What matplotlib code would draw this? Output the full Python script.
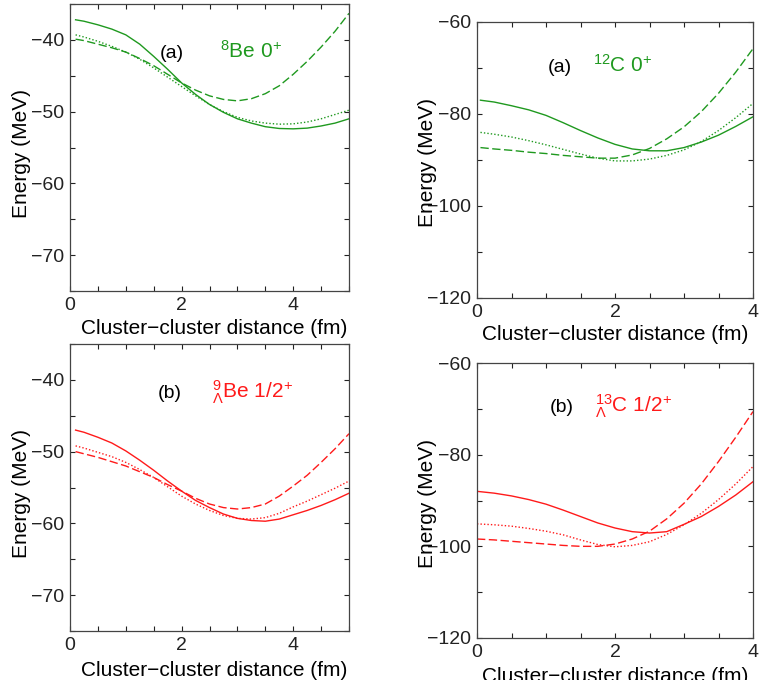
import matplotlib
matplotlib.use("Agg")
import matplotlib.pyplot as plt
from matplotlib.ticker import MultipleLocator

plt.rcParams['font.family'] = ['Liberation Sans', 'DejaVu Sans']
plt.rcParams['mathtext.fontset'] = 'custom'
plt.rcParams['mathtext.rm'] = 'Liberation Sans'
plt.rcParams['mathtext.it'] = 'Liberation Sans:italic'
plt.rcParams['mathtext.bf'] = 'Liberation Sans:bold'

# ---------------- data ----------------
x_be8 = [0.1, 0.25, 0.5, 0.75, 1.0, 1.25, 1.5, 1.75, 2.0, 2.25, 2.5,
         2.75, 3.0, 3.25, 3.5, 3.75, 4.0, 4.25, 4.5, 4.75, 5.0]
be8_solid = [-37.2, -37.4, -37.9, -38.5, -39.3, -40.6, -42.3, -44.1, -46.0, -47.6, -49.0,
             -50.1, -51.0, -51.6, -52.1, -52.35, -52.4, -52.3, -52.0, -51.6, -51.0]
be8_dash = [-39.9, -40.1, -40.6, -41.1, -41.7, -42.6, -43.6, -44.8, -46.0, -47.0, -47.8,
            -48.3, -48.5, -48.2, -47.5, -46.4, -44.8, -43.0, -41.0, -38.8, -36.3]
be8_dot = [-39.3, -39.6, -40.2, -40.9, -41.7, -42.7, -43.9, -45.2, -46.5, -47.8, -49.0,
           -50.0, -50.8, -51.3, -51.6, -51.75, -51.7, -51.45, -51.0, -50.4, -49.8]

x_c12 = [0.05, 0.25, 0.5, 0.75, 1.0, 1.25, 1.5, 1.75, 2.0,
         2.25, 2.5, 2.75, 3.0, 3.25, 3.5, 3.75, 4.0]
c12_solid = [-77.0, -77.4, -78.2, -79.1, -80.3, -81.9, -83.6, -85.2, -86.6,
             -87.6, -88.0, -88.0, -87.3, -86.1, -84.6, -82.7, -80.6]
c12_dash = [-87.3, -87.6, -87.9, -88.3, -88.6, -89.0, -89.3, -89.6, -89.6,
            -88.9, -87.5, -85.4, -82.8, -79.5, -75.5, -70.9, -65.8]
c12_dot = [-84.0, -84.4, -85.0, -85.8, -86.7, -87.7, -88.7, -89.6, -90.2,
           -90.2, -89.8, -89.0, -87.8, -86.0, -83.6, -80.8, -77.7]

x_be9 = [0.1, 0.25, 0.5, 0.75, 1.0, 1.25, 1.5, 1.75, 2.0, 2.25, 2.5,
         2.75, 3.0, 3.25, 3.5, 3.75, 4.0, 4.25, 4.5, 4.75, 5.0]
be9_solid = [-47.0, -47.3, -48.0, -48.8, -49.9, -51.2, -52.6, -54.1, -55.5, -56.8, -57.8,
             -58.7, -59.3, -59.6, -59.7, -59.4, -58.8, -58.2, -57.5, -56.7, -55.8]
be9_dash = [-50.0, -50.3, -50.8, -51.4, -52.0, -52.8, -53.6, -54.6, -55.5, -56.5, -57.3,
            -57.8, -58.0, -57.8, -57.3, -56.2, -54.8, -53.3, -51.5, -49.6, -47.5]
be9_dot = [-49.2, -49.5, -50.1, -50.7, -51.5, -52.5, -53.6, -54.9, -56.2, -57.3, -58.2,
           -58.9, -59.3, -59.4, -59.2, -58.6, -57.7, -56.9, -56.0, -55.1, -54.1]

x_c13 = [0.0, 0.25, 0.5, 0.75, 1.0, 1.25, 1.5, 1.75, 2.0,
         2.25, 2.5, 2.75, 3.0, 3.25, 3.5, 3.75, 4.0]
c13_solid = [-88.0, -88.4, -89.0, -89.8, -90.8, -92.1, -93.5, -94.9, -96.0,
             -96.8, -97.1, -96.8, -95.2, -93.5, -91.3, -88.8, -85.9]
c13_dash = [-98.4, -98.6, -98.9, -99.2, -99.5, -99.8, -100.0, -100.0, -99.5,
            -98.4, -96.7, -94.0, -90.6, -86.4, -81.5, -76.2, -70.6]
c13_dot = [-95.1, -95.3, -95.6, -96.1, -96.7, -97.5, -98.6, -99.6, -100.1,
           -99.8, -99.0, -97.4, -95.3, -92.8, -89.8, -86.4, -82.6]

panel_tags = ['(a)', '(a)', '(b)', '(b)']
nuclei = [r'$^{8}$Be 0$^{+}$', r'$^{12}$C 0$^{+}$',
          r'${}^{9}_{\Lambda}$Be 1/2$^{+}$', r'${}^{13}_{\Lambda}$C 1/2$^{+}$']

GREEN = '#1f991f'
RED = '#ff1a1a'

W, H = 759, 680
fig = plt.figure(figsize=(W / 100, H / 100), dpi=100)

def px_axes(l, t, r, b):
    return fig.add_axes([l / W, 1 - b / H, (r - l) / W, (b - t) / H])

axes = [px_axes(70, 4, 349, 291), px_axes(477, 22, 753, 298),
        px_axes(70, 344, 349, 631), px_axes(477, 363, 753, 638)]

series = [(x_be8, be8_solid, be8_dash, be8_dot, GREEN),
          (x_c12, c12_solid, c12_dash, c12_dot, GREEN),
          (x_be9, be9_solid, be9_dash, be9_dot, RED),
          (x_c13, c13_solid, c13_dash, c13_dot, RED)]

for i, ax in enumerate(axes):
    x, s, d, o, col = series[i]
    ax.plot(x, s, color=col, lw=1.0)
    ax.plot(x, d, color=col, lw=1.0, dashes=(6, 2.5))
    ax.plot(x, o, color=col, lw=1.0, dashes=(1, 1.5))
    left = (i % 2 == 0)
    if left:
        ax.set_xlim(0, 5)
        ax.set_ylim(-75, -35)
        ax.yaxis.set_major_locator(MultipleLocator(10))
        ax.yaxis.set_minor_locator(MultipleLocator(5))
    else:
        ax.set_xlim(0, 4)
        ax.set_ylim(-120, -60)
        ax.yaxis.set_major_locator(MultipleLocator(20))
        ax.yaxis.set_minor_locator(MultipleLocator(10))
    ax.xaxis.set_major_locator(MultipleLocator(2))
    ax.xaxis.set_minor_locator(MultipleLocator(0.5))
    ax.tick_params(which='both', direction='in', top=True, right=True,
                   length=3.5, width=0.8, labelsize=14, pad=4, colors='#222222')
    for sp in ax.spines.values():
        sp.set_linewidth(0.9)
        sp.set_color('#444444')
    ax.set_xlabel('Cluster\u2212cluster distance (fm)', fontsize=15, va='center')
    ax.set_ylabel('Energy (MeV)', fontsize=15, va='center')
    top = i < 2
    if left:
        ax.yaxis.set_label_coords(-0.173, 0.48)
        ax.xaxis.set_label_coords(0.516, -0.129 if top else -0.136)
    else:
        ax.yaxis.set_label_coords(-0.179, 0.49)
        ax.xaxis.set_label_coords(0.5, -0.134 if top else -0.141)

# panel annotations (axes-fraction positions, baseline anchored)
tag_pos = [(0.323, 0.812), (0.257, 0.819), (0.315, 0.812), (0.264, 0.82)]
nuc_pos = [(0.538, 0.812), (0.42, 0.819), (0.509, 0.812), (0.428, 0.82)]
for i, ax in enumerate(axes):
    col = GREEN if i < 2 else RED
    ax.text(*tag_pos[i], panel_tags[i], transform=ax.transAxes, fontsize=14,
            ha='left', va='baseline', color='black')
    ax.text(*nuc_pos[i], nuclei[i], transform=ax.transAxes, fontsize=15,
            ha='left', va='baseline', color=col)

fig.savefig('out.png', dpi=100)
